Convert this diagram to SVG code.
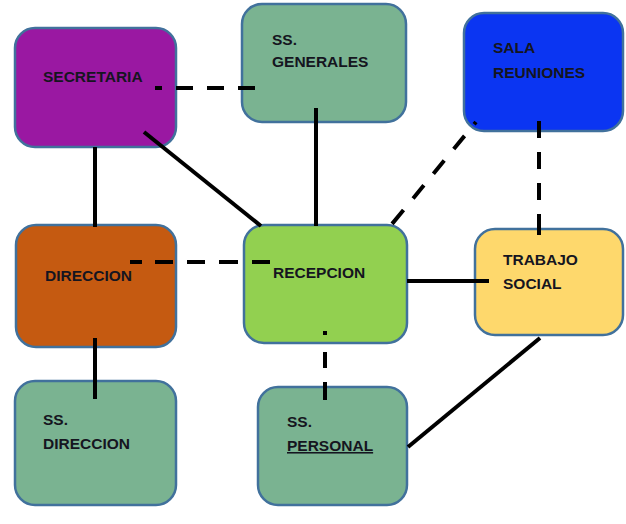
<svg xmlns="http://www.w3.org/2000/svg" width="626" height="524" viewBox="0 0 626 524">
<style>
.box{stroke:#41719c;stroke-width:2.5}
.t{font-family:"Liberation Sans",Arial,sans-serif;font-weight:bold;font-size:15.5px;fill:#151520}
.s{stroke:#000;stroke-width:4;fill:none}
.d{stroke:#000;stroke-width:4;fill:none}
</style>
<rect width="626" height="524" fill="#fff"/>
<g id="secretaria">
<rect class="box" x="15" y="28" width="161" height="119" rx="20" fill="#9a18a2"/>
<text class="t" x="43" y="82">SECRETARIA</text>
</g>
<g id="ss-generales">
<rect class="box" x="242" y="4" width="164" height="118" rx="20" fill="#7ab391"/>
<text class="t" x="272" y="45">SS.</text>
<text class="t" x="272" y="67">GENERALES</text>
</g>
<g id="sala-reuniones">
<rect class="box" x="464" y="13" width="159" height="118" rx="20" fill="#0b35f2"/>
<text class="t" x="493" y="53">SALA</text>
<text class="t" x="493" y="78">REUNIONES</text>
</g>
<g id="direccion">
<rect class="box" x="16" y="225" width="160" height="122" rx="20" fill="#c55a11"/>
<text class="t" x="45" y="281">DIRECCION</text>
</g>
<g id="recepcion">
<rect class="box" x="244" y="225" width="163" height="118" rx="20" fill="#92d050"/>
<text class="t" x="273" y="278">RECEPCION</text>
</g>
<g id="trabajo-social">
<rect class="box" x="475" y="229" width="148" height="106" rx="20" fill="#fed86c"/>
<text class="t" x="503" y="265">TRABAJO</text>
<text class="t" x="503" y="289">SOCIAL</text>
</g>
<g id="ss-direccion">
<rect class="box" x="15" y="381" width="161" height="124" rx="20" fill="#7ab391"/>
<text class="t" x="43" y="425">SS.</text>
<text class="t" x="43" y="449">DIRECCION</text>
</g>
<g id="ss-personal">
<rect class="box" x="258" y="387" width="149" height="118" rx="20" fill="#7ab391"/>
<text class="t" x="287" y="427">SS.</text>
<text class="t" x="287" y="451" text-decoration="underline">PERSONAL</text>
</g>
<g id="connectors">
<line class="s" x1="95" y1="147" x2="95" y2="227"/>
<line class="s" x1="144" y1="132" x2="261" y2="226"/>
<line class="s" x1="316" y1="108" x2="316" y2="226"/>
<line class="s" x1="407" y1="281" x2="489" y2="281"/>
<line class="s" x1="95" y1="338" x2="95" y2="399"/>
<line class="s" x1="540" y1="338" x2="408" y2="447"/>
<line class="d" x1="155" y1="88" x2="259" y2="88" stroke-dasharray="7 14 17 14 17 14 17 14"/>
<line class="d" x1="130" y1="262" x2="270" y2="262" stroke-dasharray="12 13 18 14 18 14 19 14 18"/>
<line class="d" x1="476" y1="122" x2="392" y2="224" stroke-dasharray="3 15 17 15 17 15 17 15 18"/>
<line class="d" x1="539" y1="121" x2="539" y2="235" stroke-dasharray="17 14 17 14 17 14 22"/>
<line class="d" x1="325" y1="331" x2="325" y2="400" stroke-dasharray="4 17 16 14 18 14"/>
</g>
</svg>
